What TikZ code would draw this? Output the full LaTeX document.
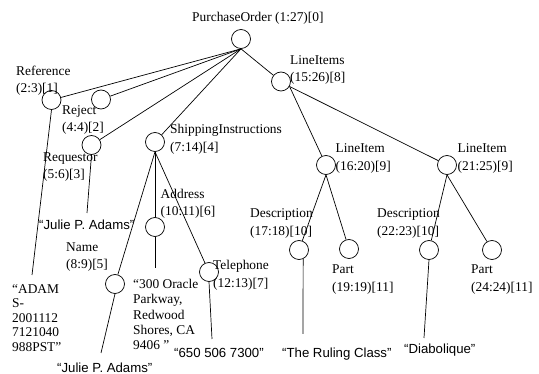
\documentclass[tikz,border=0pt]{standalone}
\usepackage{fontspec}
\setmainfont{Liberation Serif}
\newfontfamily\sansf{Liberation Sans}
\begin{document}
\begin{tikzpicture}[x=1pt,y=-1pt,
  elem/.style={circle,draw,line width=0.7pt,minimum size=19pt,inner sep=0pt},
  lbl/.style={anchor=west,inner sep=0pt,align=left,font=\fontsize{13.4}{17.5}\selectfont},
  val/.style={anchor=west,inner sep=0pt,align=left,font=\fontsize{13.4}{14.5}\selectfont},
  sval/.style={anchor=west,inner sep=0pt,font=\sansf\fontsize{13.2}{15}\selectfont},
  edge/.style={line width=0.7pt}]
\useasboundingbox (0,0) rectangle (539,374);
% circles
\node[elem] (po) at (241,39) {};
\node[elem] (ref) at (51.5,100) {};
\node[elem] (rej) at (101,99.5) {};
\node[elem] (req) at (91.5,145) {};
\node[elem] (ship) at (155,142) {};
\node[elem] (lis) at (281,81.5) {};
\node[elem] (li1) at (326,165) {};
\node[elem] (li2) at (447,165) {};
\node[elem] (addr) at (155,227) {};
\node[elem] (name) at (115,284) {};
\node[elem] (tel) at (209,272) {};
\node[elem] (d1) at (299,250) {};
\node[elem] (p1) at (349,249) {};
\node[elem] (d2) at (429,250) {};
\node[elem] (p2) at (492,250) {};
% labels
\node[lbl] (tpo) at (192,18) {PurchaseOrder (1:27)[0]};
\node[lbl] (tref) at (16,80.5) {Reference\\(2:3)[1]};
\node[lbl] (trej) at (62,120) {Reject\\(4:4)[2]};
\node[lbl] (treq) at (43,167) {Requestor\\(5:6)[3]};
\node[lbl] (tship) at (170,139.5) {ShippingInstructions\\(7:14)[4]};
\node[lbl] (tlis) at (290,70) {LineItems\\(15:26)[8]};
\node[lbl] (tli1) at (335.5,158.5) {LineItem\\(16:20)[9]};
\node[lbl] (tli2) at (457.5,158.5) {LineItem\\(21:25)[9]};
\node[lbl] (taddr) at (160.5,204) {Address\\(10:11)[6]};
\node[lbl] (tname) at (66,257) {Name\\(8:9)[5]};
\node[lbl] (ttel) at (213,275.5) {Telephone\\(12:13)[7]};
\node[lbl] (td1) at (250,223.5) {Description\\(17:18)[10]};
\node[lbl] (tp1) at (332,279.5) {Part\\(19:19)[11]};
\node[lbl] (td2) at (377,223.5) {Description\\(22:23)[10]};
\node[lbl] (tp2) at (471,279.5) {Part\\(24:24)[11]};
% values
\node[val] (vref) at (12,318) {“ADAM\\S-\\2001112\\7121040\\988PST”};
\node[val,font=\fontsize{13.4}{15.25}\selectfont] (vaddr) at (133,314.5) {“300 Oracle\\Parkway,\\Redwood\\Shores, CA\\9406 ”};
\node[sval] (vreq) at (39,225) {“Julie P. Adams”};
\node[sval] (vname) at (57,368) {“Julie P. Adams”};
\node[sval] (vtel) at (174,353) {“650 506 7300”};
\node[sval] (vd1) at (282,354) {“The Ruling Class”};
\node[sval] (vd2) at (404,350) {“Diabolique”};
% leaf ends
\coordinate (eref) at (32,275);
\coordinate (ereq) at (87,213);
\coordinate (eaddr) at (155,268);
\coordinate (ename) at (101,353);
\coordinate (etel) at (212,339);
\coordinate (ed1) at (303,334);
\coordinate (ed2) at (424,338);
% edges
\draw[edge] (po.south) -- (ref);
\draw[edge] (po.south) -- (rej);
\draw[edge] (po.south) -- (req);
\draw[edge] (po.south) -- (ship);
\draw[edge] (po.south) -- (lis);
\draw[edge] (lis.-30) -- (li1);
\draw[edge] (lis.-30) -- (li2);
\draw[edge] (ship.south) -- (name);
\draw[edge] (ship.south) -- (addr);
\draw[edge] (ship.south) -- (tel);
\draw[edge] (li1.south) -- (d1);
\draw[edge] (li1.south) -- (p1);
\draw[edge] (li2.south) -- (d2);
\draw[edge] (li2.south) -- (p2);
\draw[edge] (ref.south) -- (eref);
\draw[edge] (req.south) -- (ereq);
\draw[edge] (addr.south) -- (eaddr);
\draw[edge] (name.south) -- (ename);
\draw[edge] (tel.south) -- (etel);
\draw[edge] (d1.-65) -- (ed1);
\draw[edge] (d2.south) -- (ed2);
\end{tikzpicture}
\end{document}
